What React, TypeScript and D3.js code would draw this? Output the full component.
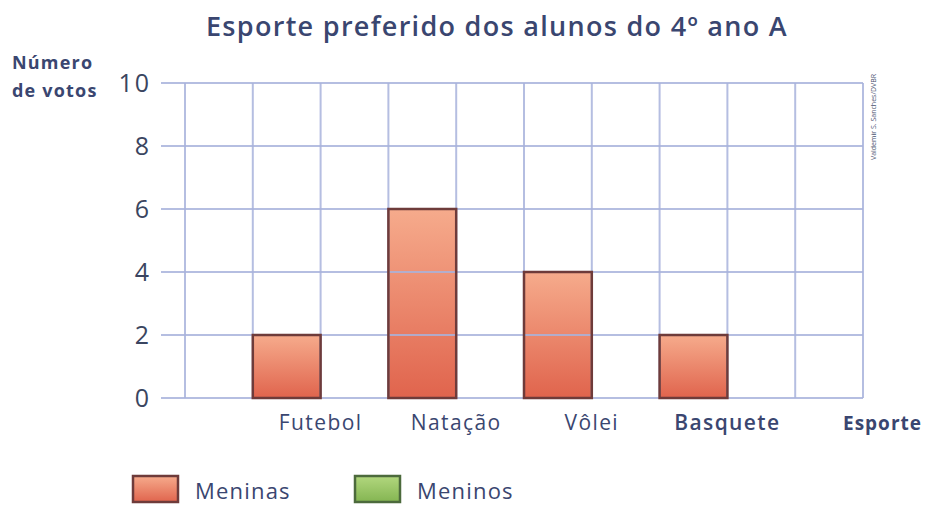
import * as d3 from "d3";
import React from "react";

const categories = ["Futebol", "Natação", "Vôlei", "Basquete"];
const series = ["Meninas", "Meninos"];
const meninas = [2, 6, 4, 2];
const meninos = [0, 0, 0, 0];
const yTicks = [0, 2, 4, 6, 8, 10];

const W = 925;
const H = 507;
const FONT = "'Open Sans', 'Noto Sans', sans-serif";
const TEXT = "#3a4670";
const GRID = "#a9b3dc";

const App: React.FC = () => {
  // 10 grid columns, first and last left empty, each sport takes two
  const cols = d3.scaleLinear().domain([0, 10]).range([185, 863]);
  const y = d3.scaleLinear().domain([0, 10]).range([398, 83]);
  const x = d3.scaleBand<string>().domain(categories).range([cols(1), cols(9)]).padding(0);
  const xs = d3.scaleBand<string>().domain(series).range([0, x.bandwidth()]).padding(0);

  const values: Record<string, number[]> = { Meninas: meninas, Meninos: meninos };
  const bars = categories.flatMap((c, i) =>
    series.map((s) => ({ c, s, v: values[s][i] }))
  );
  const fillId = (s: string) => (s === "Meninas" ? "url(#gradGirl)" : "url(#gradBoy)");
  const strokeOf = (s: string) => (s === "Meninas" ? "#6e3b3a" : "#4c6a3c");

  return (
    <svg width={W} height={H} style={{ position: "absolute", left: 0, top: 0, background: "#fff" }}>
      <defs>
        <linearGradient id="gradGirl" x1="0" y1="0" x2="0" y2="1">
          <stop offset="0%" stopColor="#f6ab8c" />
          <stop offset="100%" stopColor="#e0644d" />
        </linearGradient>
        <linearGradient id="gradBoy" x1="0" y1="0" x2="0" y2="1">
          <stop offset="0%" stopColor="#b2d77e" />
          <stop offset="100%" stopColor="#84b552" />
        </linearGradient>
      </defs>

      <text x={497} y={36} textAnchor="middle" fontFamily={FONT} fontWeight={600} fontSize={27} letterSpacing={1.3} fill={TEXT}>
        Esporte preferido dos alunos do 4º ano A
      </text>

      <text fontFamily={FONT} fontWeight={700} fontSize={18} letterSpacing={1.2} fill={TEXT}>
        <tspan x={12} y={69}>Número</tspan>
        <tspan x={12} y={97}>de votos</tspan>
      </text>

      {/* bar fills */}
      {bars.filter((b) => b.v > 0).map((b) => (
        <rect
          key={"f" + b.c + b.s}
          x={(x(b.c) ?? 0) + (xs(b.s) ?? 0)}
          y={y(b.v)}
          width={xs.bandwidth()}
          height={y(0) - y(b.v)}
          fill={fillId(b.s)}
        />
      ))}

      {/* grid */}
      {yTicks.map((t) => (
        <line key={"h" + t} x1={161} x2={cols(10)} y1={y(t)} y2={y(t)} stroke={GRID} strokeWidth={2} opacity={0.85} />
      ))}
      {d3.range(0, 11).map((k) => (
        <line key={"v" + k} x1={cols(k)} x2={cols(k)} y1={y(10)} y2={y(0)} stroke={GRID} strokeWidth={2} opacity={0.85} />
      ))}

      {/* bar outlines */}
      {bars.filter((b) => b.v > 0).map((b) => (
        <rect
          key={"s" + b.c + b.s}
          x={(x(b.c) ?? 0) + (xs(b.s) ?? 0)}
          y={y(b.v)}
          width={xs.bandwidth()}
          height={y(0) - y(b.v)}
          fill="none"
          stroke={strokeOf(b.s)}
          strokeWidth={2.5}
        />
      ))}

      {yTicks.map((t) => (
        <text key={"yt" + t} x={151} y={y(t)} dy="0.36em" textAnchor="end" fontFamily={FONT} fontSize={25} letterSpacing={2} fill="#3a4560">
          {t}
        </text>
      ))}

      {categories.map((c) => (
        <text
          key={"xl" + c}
          x={(x(c) ?? 0) + x.bandwidth() / 2}
          y={430}
          textAnchor="middle"
          fontFamily={FONT}
          fontWeight={c === "Basquete" ? 600 : 400}
          fontSize={21}
          letterSpacing={1.4}
          fill={TEXT}
        >
          {c}
        </text>
      ))}
      <text x={922} y={430} textAnchor="end" fontFamily={FONT} fontWeight={700} fontSize={19} letterSpacing={1} fill={TEXT}>
        Esporte
      </text>

      <text
        transform="translate(876,160) rotate(-90)"
        fontFamily={FONT}
        fontSize={7}
        fill="#4a5270"
      >
        Valdemir S. Sanches/DVBR
      </text>

      {/* legend */}
      {series.map((s, i) => {
        const lx = 133 + i * 222;
        return (
          <g key={"lg" + s}>
            <rect x={lx} y={476} width={45} height={26} fill={fillId(s)} stroke={strokeOf(s)} strokeWidth={2.5} />
            <text x={lx + 62} y={499} fontFamily={FONT} fontSize={22} letterSpacing={1.2} fill={TEXT}>
              {s}
            </text>
          </g>
        );
      })}
    </svg>
  );
};

export default App;
